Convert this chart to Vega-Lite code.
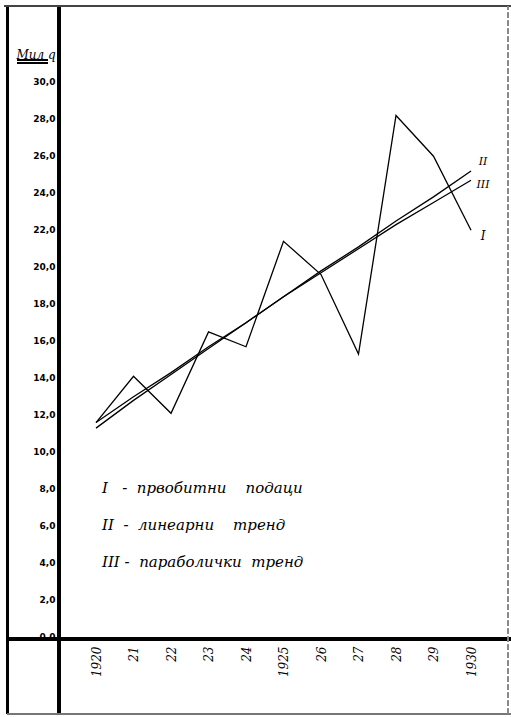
{
  "$schema": "https://vega.github.io/schema/vega-lite/v6.json",
  "width": 450,
  "height": 633,
  "autosize": {"type": "none"},
  "padding": {"left": 59, "top": 6, "right": 2, "bottom": 78},
  "background": "white",
  "config": {"view": {"stroke": null}, "font": "DejaVu Serif"},
  "data": {
    "values": [
      {"year": 1920, "value": 11.7, "series": "I"},
      {"year": 1921, "value": 14.2, "series": "I"},
      {"year": 1922, "value": 12.2, "series": "I"},
      {"year": 1923, "value": 16.6, "series": "I"},
      {"year": 1924, "value": 15.8, "series": "I"},
      {"year": 1925, "value": 21.5, "series": "I"},
      {"year": 1926, "value": 19.7, "series": "I"},
      {"year": 1927, "value": 15.4, "series": "I"},
      {"year": 1928, "value": 28.3, "series": "I"},
      {"year": 1929, "value": 26.1, "series": "I"},
      {"year": 1930, "value": 22.1, "series": "I"},
      {"year": 1920, "value": 11.7, "series": "II"},
      {"year": 1921, "value": 13.1, "series": "II"},
      {"year": 1922, "value": 14.4, "series": "II"},
      {"year": 1923, "value": 15.8, "series": "II"},
      {"year": 1924, "value": 17.1, "series": "II"},
      {"year": 1925, "value": 18.5, "series": "II"},
      {"year": 1926, "value": 19.9, "series": "II"},
      {"year": 1927, "value": 21.2, "series": "II"},
      {"year": 1928, "value": 22.6, "series": "II"},
      {"year": 1929, "value": 23.9, "series": "II"},
      {"year": 1930, "value": 25.3, "series": "II"},
      {"year": 1920, "value": 11.4, "series": "III"},
      {"year": 1921, "value": 12.9, "series": "III"},
      {"year": 1922, "value": 14.3, "series": "III"},
      {"year": 1923, "value": 15.7, "series": "III"},
      {"year": 1924, "value": 17.1, "series": "III"},
      {"year": 1925, "value": 18.5, "series": "III"},
      {"year": 1926, "value": 19.8, "series": "III"},
      {"year": 1927, "value": 21.1, "series": "III"},
      {"year": 1928, "value": 22.4, "series": "III"},
      {"year": 1929, "value": 23.6, "series": "III"},
      {"year": 1930, "value": 24.8, "series": "III"}
    ]
  },
  "layer": [
    {
      "mark": {"type": "line", "strokeWidth": 1.3},
      "encoding": {
        "x": {
          "field": "year", "type": "quantitative",
          "scale": {"domain": [1919.013, 1931.013], "nice": false, "zero": false},
          "axis": {
            "values": [1920, 1921, 1922, 1923, 1924, 1925, 1926, 1927, 1928, 1929, 1930],
            "labelExpr": "(datum.value == 1920 || datum.value == 1925 || datum.value == 1930) ? '' + datum.value : substring('' + datum.value, 2, 4)",
            "labelAngle": -90, "labelAlign": "right", "labelBaseline": "middle",
            "labelPadding": 7, "tickSize": 0, "domain": false, "grid": false, "title": null,
            "labelFontSize": 12, "labelFontStyle": "italic", "labelColor": "black", "labelFont": "DejaVu Serif"
          }
        },
        "y": {
          "field": "value", "type": "quantitative",
          "scale": {"domain": [0, 34.22], "nice": false, "zero": true},
          "axis": {
            "values": [0, 2, 4, 6, 8, 10, 12, 14, 16, 18, 20, 22, 24, 26, 28, 30],
            "labelExpr": "replace(format(datum.value, '.1f'), '.', ',')",
            "tickSize": 0, "labelPadding": 4, "labelOffset": -3, "domain": false, "grid": false,
            "labelFontSize": 9, "labelFontWeight": "bold", "labelColor": "black", "labelFont": "DejaVu Sans",
            "title": "Мил q", "titleAngle": 0, "titleX": -43, "titleY": 52,
            "titleAlign": "left", "titleBaseline": "alphabetic",
            "titleFontSize": 12, "titleFontStyle": "italic", "titleFontWeight": "normal", "titleFont": "DejaVu Serif", "titleColor": "black"
          }
        },
        "color": {
          "field": "series", "type": "nominal",
          "scale": {"domain": ["I", "II", "III"], "range": ["black", "black", "black"]},
          "legend": {
            "orient": "none", "legendX": 28, "legendY": 474, "title": null,
            "symbolOpacity": 0, "symbolSize": 0, "symbolStrokeWidth": 0, "labelOffset": 0,
            "labelExpr": "datum.label == 'I' ? 'I\u00a0\u00a0\u00a0-\u00a0\u00a0првобитни\u00a0\u00a0\u00a0\u00a0подаци' : datum.label == 'II' ? 'II\u00a0\u00a0-\u00a0\u00a0линеарни\u00a0\u00a0\u00a0\u00a0тренд' : 'III\u00a0-\u00a0\u00a0параболички\u00a0\u00a0тренд'",
            "labelFontSize": 15, "labelFontStyle": "italic", "labelFont": "DejaVu Serif", "labelColor": "black",
            "rowPadding": 21, "labelLimit": 400
          }
        }
      }
    },
    {
      "transform": [{"filter": "datum.year == 1930 && datum.series == 'I'"}],
      "mark": {"type": "text", "dx": 12, "dy": 6, "fontSize": 12, "fontStyle": "italic", "font": "DejaVu Serif", "color": "black"},
      "encoding": {"x": {"field": "year", "type": "quantitative"}, "y": {"field": "value", "type": "quantitative"}, "text": {"field": "series"}}
    },
    {
      "transform": [{"filter": "datum.year == 1930 && datum.series == 'II'"}],
      "mark": {"type": "text", "dx": 12, "dy": -9, "fontSize": 11, "fontStyle": "italic", "font": "DejaVu Serif", "color": "black"},
      "encoding": {"x": {"field": "year", "type": "quantitative"}, "y": {"field": "value", "type": "quantitative"}, "text": {"field": "series"}}
    },
    {
      "transform": [{"filter": "datum.year == 1930 && datum.series == 'III'"}],
      "mark": {"type": "text", "dx": 12, "dy": 5, "fontSize": 11, "fontStyle": "italic", "font": "DejaVu Serif", "color": "black"},
      "encoding": {"x": {"field": "year", "type": "quantitative"}, "y": {"field": "value", "type": "quantitative"}, "text": {"field": "series"}}
    },
    {
      "mark": {"type": "rule", "strokeWidth": 2.2, "color": "black"},
      "encoding": {"x": {"datum": 1919.013, "type": "quantitative"}, "y": {"datum": -4.05, "type": "quantitative"}, "y2": {"datum": 34.22}}
    },
    {
      "mark": {"type": "rule", "strokeWidth": 2.5, "color": "black"},
      "encoding": {"y": {"datum": 0, "type": "quantitative"}, "x": {"datum": 1917.63, "type": "quantitative"}, "x2": {"datum": 1931.05}}
    },
    {
      "mark": {"type": "rule", "strokeWidth": 2, "color": "black"},
      "encoding": {"x": {"datum": 1917.63, "type": "quantitative"}, "y": {"datum": -4.05, "type": "quantitative"}, "y2": {"datum": 34.22}}
    },
    {
      "mark": {"type": "rule", "strokeWidth": 1.5, "color": "#444"},
      "encoding": {"y": {"datum": 34.2, "type": "quantitative"}, "x": {"datum": 1917.55, "type": "quantitative"}, "x2": {"datum": 1931.05}}
    },
    {
      "mark": {"type": "rule", "strokeWidth": 1.2, "color": "#777"},
      "encoding": {"y": {"datum": -4.05, "type": "quantitative"}, "x": {"datum": 1917.63, "type": "quantitative"}, "x2": {"datum": 1931.05}}
    },
    {
      "mark": {"type": "rule", "strokeWidth": 1, "color": "#888", "strokeDash": [5, 3]},
      "encoding": {"x": {"datum": 1930.99, "type": "quantitative"}, "y": {"datum": -4.05, "type": "quantitative"}, "y2": {"datum": 34.2}}
    },
    {
      "mark": {"type": "rule", "strokeWidth": 1, "color": "black"},
      "encoding": {"y": {"datum": 31.3, "type": "quantitative"}, "x": {"datum": 1917.9, "type": "quantitative"}, "x2": {"datum": 1918.72}}
    },
    {
      "mark": {"type": "rule", "strokeWidth": 1, "color": "black"},
      "encoding": {"y": {"datum": 31.12, "type": "quantitative"}, "x": {"datum": 1917.9, "type": "quantitative"}, "x2": {"datum": 1918.72}}
    }
  ]
}
